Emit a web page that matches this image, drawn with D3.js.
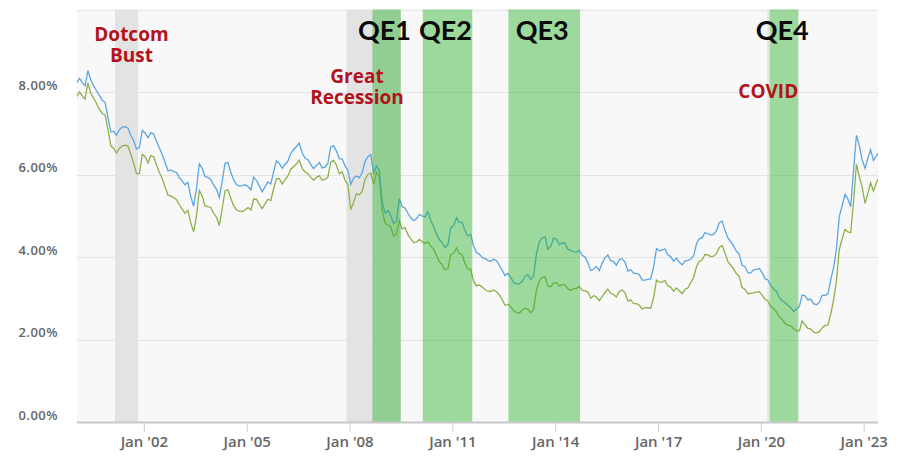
<!DOCTYPE html>
<html>
<head>
<meta charset="utf-8">
<script src="https://cdn.jsdelivr.net/npm/d3@7"></script>
<style>
  html, body { margin: 0; padding: 0; background: #ffffff; }
  svg { display: block; }
</style>
</head>
<body>
<svg id="chart" width="900" height="458"></svg>
<script>
// ---------------- DATA ----------------
// Monthly values, starting January 2000 (30-year fixed, %)
const rate30 = [
  8.21,8.33,8.24,8.15,8.52,8.29,8.15,8.03,7.91,7.80,7.75,7.38, // 2000
  7.03,7.05,6.95,7.08,7.15,7.16,7.13,6.95,6.82,6.62,6.66,7.07, // 2001
  7.00,6.89,7.01,6.99,6.81,6.65,6.49,6.29,6.09,6.11,6.07,6.05, // 2002
  5.92,5.84,5.75,5.81,5.48,5.23,5.63,6.26,6.15,5.95,5.93,5.88, // 2003
  5.74,5.64,5.45,5.83,6.27,6.29,6.06,5.87,5.75,5.72,5.73,5.75, // 2004
  5.71,5.63,5.93,5.86,5.72,5.58,5.70,5.82,5.77,6.07,6.33,6.27, // 2005
  6.15,6.25,6.32,6.51,6.60,6.68,6.76,6.52,6.40,6.36,6.24,6.14, // 2006
  6.22,6.29,6.16,6.18,6.26,6.66,6.70,6.57,6.38,6.38,6.21,6.10, // 2007
  5.76,5.92,5.97,5.92,6.04,6.32,6.43,6.48,6.04,6.20,6.09,5.33, // 2008
  5.06,5.13,5.00,4.81,4.86,5.42,5.22,5.19,5.06,4.95,4.88,4.93, // 2009
  5.03,4.99,4.97,5.10,4.89,4.74,4.56,4.43,4.35,4.23,4.30,4.71, // 2010
  4.76,4.95,4.84,4.84,4.64,4.51,4.55,4.27,4.11,4.07,3.99,3.96, // 2011
  3.92,3.89,3.95,3.91,3.80,3.68,3.55,3.60,3.50,3.38,3.35,3.35, // 2012
  3.41,3.53,3.57,3.45,3.54,4.07,4.37,4.46,4.49,4.19,4.26,4.46, // 2013
  4.43,4.30,4.34,4.34,4.19,4.16,4.13,4.12,4.16,4.04,4.00,3.86, // 2014
  3.67,3.71,3.77,3.67,3.84,3.98,4.05,3.91,3.89,3.80,3.94,3.96, // 2015
  3.87,3.66,3.69,3.61,3.60,3.57,3.44,3.44,3.46,3.47,3.77,4.20, // 2016
  4.15,4.17,4.20,4.05,4.01,3.90,3.97,3.88,3.81,3.90,3.92,3.95, // 2017
  4.03,4.33,4.44,4.47,4.59,4.57,4.53,4.55,4.63,4.83,4.87,4.64, // 2018
  4.46,4.37,4.27,4.14,4.07,3.80,3.77,3.62,3.61,3.69,3.70,3.72, // 2019
  3.62,3.47,3.45,3.31,3.23,3.16,3.02,2.94,2.89,2.83,2.77,2.68, // 2020
  2.74,2.81,3.08,3.06,2.96,2.98,2.87,2.84,2.90,3.07,3.07,3.10, // 2021
  3.45,3.76,4.17,4.98,5.23,5.52,5.41,5.22,6.11,6.95,6.70,6.36, // 2022
  6.15,6.40,6.60,6.34,6.45,6.55                                 // 2023
];
// Monthly values, starting January 2000 (15-year fixed, %)
const rate15 = [
  7.88,8.00,7.91,7.83,8.22,7.97,7.85,7.72,7.58,7.48,7.44,7.09, // 2000
  6.69,6.63,6.52,6.63,6.69,6.71,6.69,6.49,6.27,6.02,6.02,6.49, // 2001
  6.43,6.28,6.46,6.43,6.24,6.05,5.91,5.70,5.50,5.48,5.44,5.39, // 2002
  5.26,5.16,5.06,5.13,4.84,4.61,4.98,5.61,5.48,5.24,5.22,5.20, // 2003
  5.06,4.96,4.76,5.17,5.60,5.63,5.43,5.24,5.14,5.11,5.10,5.14, // 2004
  5.20,5.14,5.40,5.40,5.28,5.17,5.29,5.40,5.37,5.66,5.90,5.90, // 2005
  5.77,5.88,5.96,6.13,6.19,6.26,6.35,6.15,6.06,6.02,5.93,5.86, // 2006
  5.93,5.97,5.86,5.88,5.93,6.30,6.34,6.23,6.02,6.06,5.86,5.75, // 2007
  5.15,5.33,5.53,5.51,5.59,5.88,6.00,6.03,5.76,6.05,5.92,5.13, // 2008
  4.81,4.78,4.73,4.51,4.55,4.88,4.68,4.71,4.54,4.44,4.35,4.36, // 2009
  4.43,4.37,4.33,4.37,4.27,4.19,4.04,3.89,3.81,3.69,3.72,4.06, // 2010
  4.09,4.22,4.08,4.06,3.85,3.71,3.70,3.42,3.30,3.32,3.27,3.21, // 2011
  3.17,3.16,3.20,3.16,3.08,2.97,2.83,2.85,2.79,2.70,2.66,2.64, // 2012
  2.71,2.76,2.73,2.65,2.73,3.20,3.42,3.50,3.52,3.29,3.28,3.37, // 2013
  3.38,3.30,3.33,3.32,3.23,3.19,3.23,3.24,3.29,3.19,3.18,3.15, // 2014
  3.00,3.06,3.03,2.94,3.04,3.14,3.22,3.12,3.09,3.03,3.17,3.20, // 2015
  3.13,2.93,2.96,2.87,2.87,2.83,2.74,2.77,2.77,2.76,3.02,3.44, // 2016
  3.39,3.39,3.43,3.30,3.27,3.17,3.25,3.18,3.11,3.22,3.25,3.38, // 2017
  3.51,3.77,3.89,3.93,4.06,4.05,4.01,4.02,4.08,4.23,4.28,4.09, // 2018
  3.89,3.80,3.71,3.60,3.53,3.26,3.22,3.11,3.12,3.13,3.15,3.16, // 2019
  3.07,2.97,2.94,2.80,2.75,2.67,2.55,2.48,2.39,2.35,2.33,2.26, // 2020
  2.21,2.21,2.45,2.36,2.27,2.26,2.18,2.16,2.19,2.28,2.34,2.35, // 2021
  2.62,2.98,3.39,4.17,4.43,4.67,4.61,4.59,5.35,6.25,5.95,5.70, // 2022
  5.30,5.55,5.80,5.60,5.80,5.95                                 // 2023
];
const startYear = 2000;

const xTickYears = [2002, 2005, 2008, 2011, 2014, 2017, 2020, 2023];
const yTicks = [0, 2, 4, 6, 8, 10];
const yLabelTicks = [0, 2, 4, 6, 8];

const recessions = [
  { start: "2001-03-01", end: "2001-11-01" },
  { start: "2007-12-01", end: "2009-06-30" },
  { start: "2020-03-10", end: "2020-04-07" }
];
const qePrograms = [
  { label: "QE1", start: "2008-09-01", end: "2009-06-30" },
  { label: "QE2", start: "2010-02-20", end: "2011-08-01" },
  { label: "QE3", start: "2012-08-20", end: "2014-09-22" },
  { label: "QE4", start: "2020-04-07", end: "2021-02-03" }
];
const recessionLabels = [
  { lines: ["Dotcom", "Bust"], date: "2001-08-22", top: 0 },
  { lines: ["Great", "Recession"], date: "2008-03-21", top: 1 },
  { lines: ["COVID"], date: "2020-03-20", top: 2 }
];

// ---------------- CHART ----------------
const W = 900, H = 458;
const m = { left: 77, right: 22, top: 9.5, bottom: 36 };
const parse = d3.timeParse("%Y-%m-%d");
const svg = d3.select("#chart");

const dates = rate30.map((_, i) => new Date(startYear + Math.floor(i / 12), i % 12, 15));
const series30 = dates.map((d, i) => ({ date: d, v: rate30[i] }));
const series15 = dates.map((d, i) => ({ date: d, v: rate15[i] }));

const x = d3.scaleTime()
  .domain([new Date(2000, 0, 20), new Date(2023, 5, 2)])
  .range([m.left, W - m.right]);
const y = d3.scaleLinear().domain([0, 10]).range([H - m.bottom, m.top]);

svg.append("defs").append("clipPath").attr("id", "plotclip")
  .append("rect")
  .attr("x", m.left).attr("y", m.top)
  .attr("width", W - m.left - m.right).attr("height", H - m.top - m.bottom);

// plot background
svg.append("rect")
  .attr("x", m.left).attr("y", m.top)
  .attr("width", W - m.left - m.right).attr("height", H - m.top - m.bottom)
  .attr("fill", "#f8f8f8");

// recession bands (under lines)
svg.append("g").selectAll("rect").data(recessions).join("rect")
  .attr("x", d => x(parse(d.start)))
  .attr("width", d => x(parse(d.end)) - x(parse(d.start)))
  .attr("y", m.top).attr("height", H - m.top - m.bottom)
  .attr("fill", "#e3e3e3");

// grid
svg.append("g").selectAll("line").data(yTicks).join("line")
  .attr("x1", m.left).attr("x2", W - m.right)
  .attr("y1", d => Math.round(y(d)) + 0.5).attr("y2", d => Math.round(y(d)) + 0.5)
  .attr("stroke", "#e4e4e4").attr("stroke-width", 1);

// lines
const line = d3.line().x(d => x(d.date)).y(d => y(d.v)).curve(d3.curveLinear);
const gl = svg.append("g").attr("clip-path", "url(#plotclip)");
gl.append("path").datum(series15).attr("d", line)
  .attr("fill", "none").attr("stroke", "#8db04b").attr("stroke-width", 1.3);
gl.append("path").datum(series30).attr("d", line)
  .attr("fill", "none").attr("stroke", "#5aa5e2").attr("stroke-width", 1.3);

// QE bands (translucent overlay above lines)
svg.append("g").selectAll("rect").data(qePrograms).join("rect")
  .attr("x", d => x(parse(d.start)))
  .attr("width", d => x(parse(d.end)) - x(parse(d.start)))
  .attr("y", m.top).attr("height", H - m.top - m.bottom)
  .attr("fill", "rgb(46,180,46)").attr("fill-opacity", 0.45);

// x axis
const xAxis = d3.axisBottom(x)
  .tickValues(xTickYears.map(yr => new Date(yr, 0, 1)))
  .tickSize(10).tickPadding(4)
  .tickFormat(d => "Jan '" + d3.timeFormat("%y")(d));
const gx = svg.append("g").attr("transform", `translate(0,${H - m.bottom})`).call(xAxis);
gx.select(".domain").remove();
gx.selectAll(".tick line").attr("stroke", "#d0d0d0");
gx.selectAll(".tick text")
  .attr("fill", "#666").style("font-family", "'Open Sans', sans-serif")
  .style("font-size", "15px").style("font-weight", "600");
svg.append("line")
  .attr("x1", m.left).attr("x2", W - m.right)
  .attr("y1", H - m.bottom + 0.5).attr("y2", H - m.bottom + 0.5)
  .attr("stroke", "#c8c8c8").attr("stroke-width", 2);

// y axis
const yAxis = d3.axisLeft(y).tickValues(yLabelTicks).tickSize(0).tickPadding(19)
  .tickFormat(d => d.toFixed(2) + "%");
const gy = svg.append("g").attr("transform", `translate(${m.left},0)`).call(yAxis);
gy.select(".domain").remove();
gy.selectAll(".tick text")
  .attr("dy", "-0.2em")
  .attr("fill", "#666").style("font-family", "'Open Sans', sans-serif")
  .style("font-size", "13px").style("font-weight", "600")
  .style("letter-spacing", "0.5px");

// QE labels
svg.append("g").selectAll("text").data(qePrograms).join("text")
  .attr("x", d => (x(parse(d.start)) + x(parse(d.end))) / 2 - 2)
  .attr("y", 40)
  .attr("text-anchor", "middle")
  .style("font-family", "Lato, 'Open Sans', sans-serif")
  .style("font-weight", "700").style("font-size", "27px")
  .attr("fill", "#0a0a0a")
  .text(d => d.label);

// recession labels
const labelTops = [40.5, 82.5, 98.3];
const rl = svg.append("g").selectAll("text").data(recessionLabels).join("text")
  .attr("text-anchor", "middle")
  .style("font-family", "'Open Sans', sans-serif")
  .style("font-weight", "700").style("font-size", "19px")
  .attr("fill", "#b3121c");
rl.each(function (d) {
  const t = d3.select(this);
  d.lines.forEach((ln, i) => {
    t.append("tspan").attr("x", x(parse(d.date)))
      .attr("y", labelTops[d.top] + i * 21).text(ln);
  });
});
</script>
</body>
</html>
